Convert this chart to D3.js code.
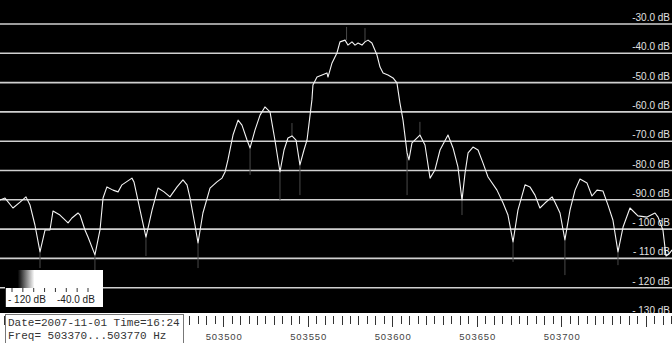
<!DOCTYPE html>
<html><head><meta charset="utf-8">
<script src="https://cdn.jsdelivr.net/npm/d3@7"></script>
<style>html,body{margin:0;padding:0;background:#fff;overflow:hidden}svg{display:block}</style>
</head><body>
<script>
// ---- data ----
const freqDomain = [503370, 503770];
const dbLevels = [-30, -40, -50, -60, -70, -80, -90, -100, -110, -120, -130];
const dbLabels = ["-30.0 dB","-40.0 dB","-50.0 dB","-60.0 dB","-70.0 dB","-80.0 dB","-90.0 dB","- 100 dB","- 110 dB","- 120 dB","- 130 dB"];
const freqTickLabels = [503500, 503550, 503600, 503650, 503700];
const traceFreq = [503367.9,503370.9,503375.6,503379.8,503383.3,503385.7,503388.6,503391.6,503394.6,503397.5,503399.3,503403.4,503408.2,503410.5,503414.1,503415.3,503418.2,503420.0,503424.1,503427.1,503428.9,503431.2,503434.8,503437.8,503440.1,503446.0,503447.2,503450.8,503454.3,503457.9,503461.4,503465.0,503468.5,503472.7,503476.2,503478.6,503480.4,503483.3,503485.1,503488.0,503492.2,503496.3,503499.3,503501.1,503502.8,503505.8,503508.8,503511.1,503514.1,503515.9,503518.8,503521.8,503524.7,503527.7,503530.6,503533.6,503536.0,503538.3,503540.7,503543.1,503545.4,503547.8,503549.6,503551.4,503552.5,503553.1,503555.5,503558.5,503561.4,503562.0,503564.4,503567.3,503569.1,503572.1,503573.8,503576.2,503578.0,503579.8,503582.1,503583.9,503585.7,503588.0,503591.0,503592.8,503594.6,503597.5,503600.5,503602.8,503604.6,503606.4,503608.8,503609.9,503611.7,503616.4,503619.4,503622.4,503625.3,503628.3,503633.0,503636.0,503638.9,503641.3,503643.1,503644.9,503647.8,503650.8,503653.7,503656.7,503662.0,503665.6,503668.5,503671.5,503674.4,503678.6,503681.5,503684.5,503687.4,503690.4,503694.6,503696.3,503699.3,503702.2,503705.2,503708.2,503711.1,503715.3,503718.2,503721.2,503724.7,503727.7,503730.6,503733.6,503736.6,503740.7,503745.4,503750.8,503755.5,503757.3,503760.2,503762.0,503763.8,503765.6];
const traceDb = [-90.1,-89.4,-92.8,-90.8,-89.0,-91.8,-98.6,-107.8,-100.3,-100.3,-93.8,-95.2,-97.9,-96.2,-94.5,-95.2,-100.3,-102.7,-108.8,-100.3,-89.4,-85.6,-86.7,-87.3,-84.9,-82.6,-83.9,-93.5,-102.7,-93.5,-86.0,-87.3,-89.0,-85.6,-83.2,-84.9,-89.4,-98.6,-104.7,-94.5,-86.0,-83.9,-82.6,-80.5,-76.4,-67.9,-62.8,-64.5,-69.6,-72.3,-66.2,-61.1,-58.3,-60.0,-69.6,-80.5,-73.0,-68.9,-68.2,-69.6,-78.1,-73.0,-69.6,-61.1,-55.9,-50.8,-48.1,-47.4,-46.7,-48.1,-43.3,-39.9,-36.1,-35.5,-37.2,-36.1,-37.2,-36.5,-37.2,-36.1,-35.5,-36.5,-40.6,-44.7,-46.7,-47.4,-48.4,-50.1,-57.0,-62.8,-74.0,-76.4,-70.6,-67.9,-71.3,-82.6,-79.8,-73.0,-67.9,-72.3,-78.8,-90.1,-80.9,-74.0,-72.0,-73.0,-77.4,-82.2,-86.7,-91.1,-95.2,-104.4,-93.5,-84.9,-85.6,-88.4,-92.8,-91.1,-89.0,-90.8,-94.5,-103.7,-93.5,-86.7,-82.9,-84.3,-88.7,-86.7,-87.0,-91.8,-96.9,-107.8,-99.3,-92.8,-95.5,-95.9,-94.5,-95.9,-100.3,-109.2,-108.5,-107.1];
// faint hold spikes: frequency, from dB, to dB
const spikeFreq = [503391.6,503424.1,503454.3,503485.1,503515.9,503533.6,503545.4,503608.8,503641.3,503671.5,503702.2,503733.6,503573.0,503583.9,503540.7,503616.4];
const spikeFrom = [-107.8,-108.8,-102.7,-104.7,-72.3,-80.5,-78.1,-74.0,-90.1,-104.4,-103.7,-107.8,-35.5,-36.1,-68.2,-67.9];
const spikeTo   = [-113.3,-114.0,-109.2,-113.3,-81.5,-90.1,-88.4,-88.4,-95.2,-111.2,-115.7,-112.3,-31.0,-31.4,-63.8,-63.4];
const legendLabels = ["- 120 dB", "-40.0 dB"];
const infoLines = ["Date=2007-11-01 Time=16:24", "Freq= 503370...503770 Hz"];

// ---- drawing ----
const W = 672, H = 343, plotBottom = 313;
const svg = d3.select("body").append("svg").attr("width", W).attr("height", H);
svg.append("rect").attr("width", W).attr("height", H).attr("fill", "#fff");
svg.append("rect").attr("width", W).attr("height", plotBottom).attr("fill", "#000");

const x = d3.scaleLinear().domain(freqDomain).range([3.5, 679.5]);
const y = d3.scaleLinear().domain([-30, -130]).range([24, 317]);

svg.append("clipPath").attr("id","plot").append("rect").attr("width", W).attr("height", plotBottom);
const plot = svg.append("g").attr("clip-path","url(#plot)");

// grid lines + labels
plot.selectAll("line.grid").data(dbLevels).join("line")
  .attr("x1", 0).attr("x2", W)
  .attr("y1", d => y(d)).attr("y2", d => y(d))
  .attr("stroke", "#d0d0d0").attr("stroke-width", 1.6);
plot.selectAll("text.db").data(dbLevels).join("text")
  .attr("x", 670).attr("y", d => y(d) - 3)
  .attr("text-anchor", "end")
  .attr("font-family", "Liberation Sans, Arial, sans-serif").attr("font-size", 10)
  .attr("fill", "#e0e0e0")
  .text((d, i) => dbLabels[i]);

// spikes
plot.selectAll("line.spike").data(spikeFreq).join("line")
  .attr("x1", d => x(d)).attr("x2", d => x(d))
  .attr("y1", (d, i) => y(spikeFrom[i])).attr("y2", (d, i) => y(spikeTo[i]))
  .attr("stroke", "#4a4a4a").attr("stroke-width", 1);

// trace
const pts = traceFreq.map((f, i) => [f, traceDb[i]]);
plot.append("path").datum(pts)
  .attr("d", d3.line().x(d => x(d[0])).y(d => y(d[1])))
  .attr("fill", "none").attr("stroke", "#f4f4f4").attr("stroke-width", 1.1)
  .attr("stroke-linejoin", "round");

// legend colour bar
const grad = svg.append("defs").append("linearGradient").attr("id", "g1");
grad.append("stop").attr("offset", "0%").attr("stop-color", "#000");
grad.append("stop").attr("offset", "13%").attr("stop-color", "#000");
grad.append("stop").attr("offset", "30%").attr("stop-color", "#fff");
grad.append("stop").attr("offset", "100%").attr("stop-color", "#fff");
svg.append("rect").attr("x", 5).attr("y", 270).attr("width", 98).attr("height", 18).attr("fill", "url(#g1)");
svg.append("rect").attr("x", 5).attr("y", 288).attr("width", 98).attr("height", 19).attr("fill", "#fff");
svg.append("line").attr("x1", 5.5).attr("x2", 5.5).attr("y1", 288).attr("y2", 307).attr("stroke", "#333");
const legX = d3.scaleLinear().domain([0, 7]).range([12, 88]);
svg.selectAll("line.legtick").data(d3.range(8)).join("line")
  .attr("x1", d => legX(d)).attr("x2", d => legX(d))
  .attr("y1", 288).attr("y2", 292).attr("stroke", "#333");
svg.selectAll("text.leg").data(legendLabels).join("text")
  .attr("x", (d, i) => i === 0 ? 8 : 57).attr("y", 303)
  .attr("font-family", "Liberation Sans, Arial, sans-serif").attr("font-size", 10)
  .attr("fill", "#222").text(d => d);

// frequency axis ticks
const ticks = d3.range(freqDomain[0], freqDomain[1] + 1, 5);
svg.selectAll("line.ft").data(ticks).join("line")
  .attr("x1", d => Math.round(x(d)) + 0.5).attr("x2", d => Math.round(x(d)) + 0.5)
  .attr("y1", 316)
  .attr("y2", d => 316 + ((d % 50 === 0) ? 11 : (d % 10 === 0 ? 9 : 8)))
  .attr("stroke", "#333").attr("stroke-width", 1);
svg.selectAll("text.fl").data(freqTickLabels).join("text")
  .attr("x", d => x(d) + 1).attr("y", 340)
  .attr("text-anchor", "middle")
  .attr("font-family", "Liberation Sans, Arial, sans-serif").attr("font-size", 9.5)
  .attr("letter-spacing", 0.9)
  .attr("fill", "#444").text(d => d);

// info box
svg.append("rect").attr("x", 5.5).attr("y", 314.5).attr("width", 178).attr("height", 30)
  .attr("fill", "#fff").attr("stroke", "#777");
svg.selectAll("text.info").data(infoLines).join("text")
  .attr("x", 8).attr("y", (d, i) => 326 + i * 13)
  .attr("font-family", "Liberation Mono, Courier New, monospace").attr("font-size", 11)
  .attr("fill", "#333").attr("xml:space", "preserve").style("white-space", "pre")
  .text(d => d);
</script>
</body></html>
